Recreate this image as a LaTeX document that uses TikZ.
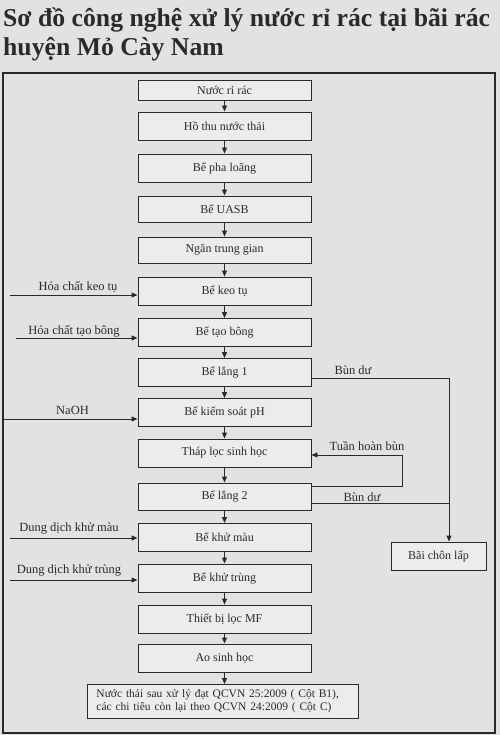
\documentclass[tikz,border=0pt]{standalone}
\usepackage{fontspec}
\setmainfont{Liberation Serif}
\usetikzlibrary{arrows.meta,calc}
\definecolor{paper}{HTML}{E2E2E0}
\definecolor{boxfill}{HTML}{ECECEA}
\definecolor{ink}{HTML}{2A2A2A}
\begin{document}
\begin{tikzpicture}[x=1pt,y=-1pt,
  every node/.style={text=ink},
  stepbox/.style={draw=ink,line width=0.9pt,fill=boxfill,minimum width=173pt,minimum height=28pt,inner sep=0pt,font=\fontsize{12}{14}\selectfont},
  lbl/.style={font=\fontsize{12.5}{14}\selectfont,inner sep=0pt},
  conn/.style={draw=ink,line width=0.9pt},
  arr/.style={conn,-{Triangle[length=6pt,width=5pt]}},
]
\fill[paper] (0,0) rectangle (500,735);
\useasboundingbox (0,0) rectangle (500,735);
% title
\node[anchor=base west,inner sep=0pt,font=\fontsize{25.7}{30}\selectfont\bfseries] (t1) at (3,27) {Sơ đồ công nghệ xử lý nước rỉ rác tại bãi rác};
\node[anchor=base west,inner sep=0pt,font=\fontsize{25.7}{30}\selectfont\bfseries] (t2) at (3,56) {huyện Mỏ Cày Nam};
% frame
\draw[ink,line width=1.3pt] (3,73) rectangle (495,733);
% boxes
\node[stepbox,minimum height=20pt] (b1) at (224.5,90) {Nước rỉ rác};
\node[stepbox] (b2) at (224.5,126) {Hồ thu nước thải};
\node[stepbox] (b3) at (224.5,168) {Bể pha loãng};
\node[stepbox,minimum height=26pt] (b4) at (224.5,209) {Bể UASB};
\node[stepbox,minimum height=26pt] (b5) at (224.5,250) {Ngăn trung gian};
\node[stepbox] (b6) at (224.5,291) {Bể keo tụ};
\node[stepbox] (b7) at (224.5,332.5) {Bể tạo bông};
\node[stepbox] (b8) at (224.5,372.5) {Bể lắng 1};
\node[stepbox] (b9) at (224.5,412.5) {Bể kiểm soát pH};
\node[stepbox] (b10) at (224.5,453) {Tháp lọc sinh học};
\node[stepbox,minimum height=27pt] (b11) at (224.5,496.5) {Bể lắng 2};
\node[stepbox] (b12) at (224.5,537.5) {Bể khử màu};
\node[stepbox] (b13) at (224.5,578) {Bể khử trùng};
\node[stepbox] (b14) at (224.5,619) {Thiết bị lọc MF};
\node[stepbox] (b15) at (224.5,658) {Ao sinh học};
\node[stepbox,font=\fontsize{11.5}{13.5}\selectfont,minimum width=271pt,minimum height=34pt,align=left,inner xsep=9pt,anchor=north west,text width=253pt] (fin) at (87,684) {Nước thải sau xử lý đạt QCVN 25:2009 ( Cột B1),\\các chi tiêu còn lại theo QCVN 24:2009 ( Cột C)};
\node[stepbox,minimum width=95pt] (bcl) at (438.5,556) {Bãi chôn lấp};
% main chain
\foreach \a/\b in {b1/b2,b2/b3,b3/b4,b4/b5,b5/b6,b6/b7,b7/b8,b8/b9,b9/b10,b10/b11,b11/b12,b12/b13,b13/b14,b14/b15}
  \draw[arr] (\a) -- (\b);
\draw[arr] (b15) -- (b15 |- fin.north);
% chemicals from the left
\coordinate (c1) at (10,295);
\coordinate (c2) at (16,338);
\coordinate (c3) at (3,419);
\coordinate (c4) at (10,538);
\coordinate (c5) at (10,580);
\draw[arr] (c1) -- (c1 -| b6.west);
\draw[arr] (c2) -- (c2 -| b7.west);
\draw[arr] (c3) -- (c3 -| b9.west);
\draw[arr] (c4) -- (c4 -| b12.west);
\draw[arr] (c5) -- (c5 -| b13.west);
\node[lbl] (l1) at (78,287) {Hóa chất keo tụ};
\node[lbl] (l2) at (74,331) {Hóa chất tạo bông};
\node[lbl] (l3) at (72.5,410) {NaOH};
\node[lbl] (l4) at (69,528) {Dung dịch khử màu};
\node[lbl] (l5) at (69,570) {Dung dịch khử trùng};
% sludge lines
\coordinate (s1) at (311,378);
\coordinate (s2) at (449,378);
\coordinate (s3) at (311,503);
\coordinate (r1) at (311,486);
\coordinate (r2) at (402,486);
\coordinate (r3) at (402,455);
\coordinate (r4) at (311,455);
\draw[conn] (s1 -| b8.east) -- (s2);
\draw[arr] (s2) -- (s2 |- bcl.north);
\draw[conn] (s3 -| b11.east) -- (s3 -| s2);
\draw[arr] (r1 -| b11.east) -- (r2) -- (r3) -- (r4 -| b10.east);
\node[lbl] (l6) at (353,370) {Bùn dư};
\node[lbl] (l7) at (362,497) {Bùn dư};
\node[lbl] (l8) at (367,446) {Tuần hoàn bùn};
\end{tikzpicture}
\end{document}
